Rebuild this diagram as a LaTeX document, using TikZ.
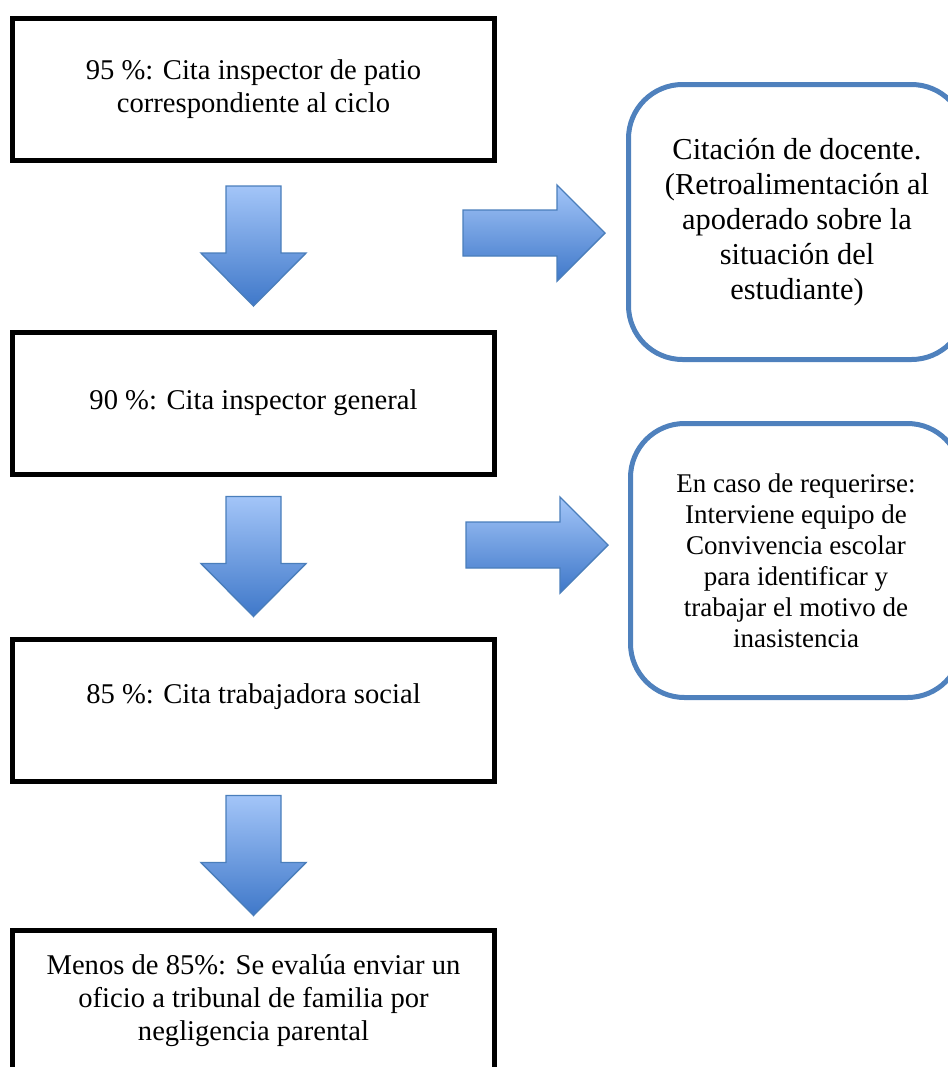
\documentclass[tikz,border=0pt]{standalone}
\usepackage{fontspec}
\setmainfont{Liberation Serif}
\usetikzlibrary{positioning, calc}
\definecolor{boxblue}{HTML}{4F81BD}
\definecolor{arrowedge}{HTML}{4A7EBB}
\definecolor{arrowtop}{HTML}{A3C5F8}
\definecolor{arrowbottom}{HTML}{3F78C9}
\tikzset{
  stepbox/.style={rectangle,draw,line width=2.5pt,minimum width=241pt,minimum height=71pt,
    align=center,inner sep=0pt,font=\fontsize{14.3}{16.5}\selectfont},
  notebox/.style={rectangle,draw=boxblue,rounded corners=27pt,line width=2.5pt,
    align=center,inner sep=0pt},
  blockarrow/.style={draw=arrowedge,line width=0.7pt,top color=arrowtop,bottom color=arrowbottom}
}

\begin{document}
\begin{tikzpicture}[x=0.5pt,y=0.5pt]
\useasboundingbox (0,0) rectangle (948,-1067);
% main chain
\node[stepbox] (b1) at (253.5,-89) {95 \%: Cita inspector de patio\\ correspondiente al ciclo};
\node[stepbox, below=83.5pt of b1] (b2) {90 \%: Cita inspector general};
\node[stepbox, below=80pt of b2] (b3) {85 \%: Cita trabajadora social\\ \mbox{}};
\node[stepbox, below=72pt of b3] (b4) {Menos de 85\%: Se evalúa enviar un\\ oficio a tribunal de familia por\\ negligencia parental};
% side notes
\node[notebox, minimum width=168.5pt, minimum height=137.5pt, font=\fontsize{15.2}{17.5}\selectfont]
  (r1) at (797,-222) {Citación de docente.\\ (Retroalimentación al\\ apoderado sobre la\\ situación del\\ estudiante)};
\node[notebox, minimum width=165.5pt, minimum height=137pt, font=\fontsize{13.5}{15.5}\selectfont]
  (r2) at (796,-560.5) {En caso de requerirse:\\ Interviene equipo de\\ Convivencia escolar\\ para identificar y\\ trabajar el motivo de\\ inasistencia};
% block arrows
\foreach \u/\v in {b1/b2,b2/b3,b3/b4}
  \draw[blockarrow] ($(\u.south)!0.5!(\v.north)+(-27.5,60)$) -- ++(55,0) -- ++(0,-67) -- ++(25,0)
    -- ++(-52.5,-53) -- ++(-52.5,53) -- ++(25,0) -- cycle;
\draw[blockarrow] ($(r1.west)+(-21,-11)$) -- ++(-48,48) -- ++(0,-25) -- ++(-94,0) -- ++(0,-46)
  -- ++(94,0) -- ++(0,-25) -- cycle;
\draw[blockarrow] ($(r2.west)+(-20,15.5)$) -- ++(-48,48) -- ++(0,-25) -- ++(-94,0) -- ++(0,-46)
  -- ++(94,0) -- ++(0,-25) -- cycle;
\end{tikzpicture}
\end{document}
